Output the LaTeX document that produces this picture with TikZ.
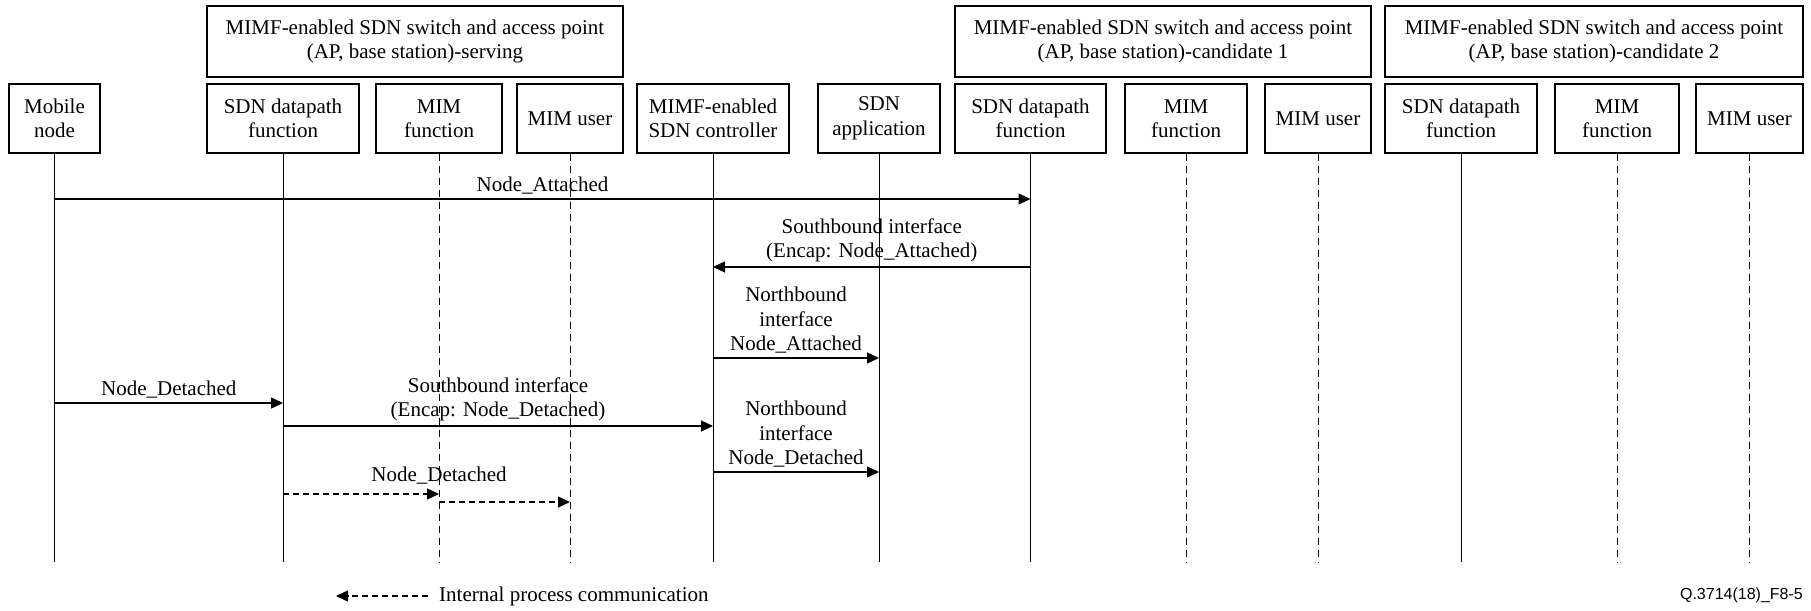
\documentclass[tikz,border=0pt]{standalone}
\usepackage{fontspec}
\setmainfont{Liberation Serif}
\newfontfamily\figfont{Liberation Sans}
\usetikzlibrary{arrows.meta, calc}

\begin{document}
\begin{tikzpicture}[x=1pt, y=-1pt, font=\fontsize{21}{24.5}\selectfont]

\tikzstyle{entity} = [rectangle, text centered, align=center, draw=black, line width=1.2pt, minimum height=69pt, inner sep=2pt]
\tikzstyle{group} = [rectangle, text centered, align=center, draw=black, line width=1.2pt, minimum height=71pt]
\tikzstyle{lifeline} = [line width=1pt]
\tikzstyle{mimline} = [line width=1pt, dash pattern=on 7pt off 5pt]
\tikzstyle{arrow} = [line width=1.4pt, -{Triangle[length=12pt,width=11pt]}]
\tikzstyle{internal} = [arrow, dash pattern=on 6pt off 4pt]
\tikzstyle{msg} = [above, inner sep=4pt, align=center]

\fill [white] (0,0) rectangle (1811,610);
\useasboundingbox (0,0) rectangle (1811,610);

% switches / access points
\node (srv) [group, minimum width=416pt] at (415,41.5) {MIMF-enabled SDN switch and access point\\(AP, base station)-serving};
\node (cd1) [group, minimum width=416pt] at (1163,41.5) {MIMF-enabled SDN switch and access point\\(AP, base station)-candidate 1};
\node (cd2) [group, minimum width=418pt] at (1594,41.5) {MIMF-enabled SDN switch and access point\\(AP, base station)-candidate 2};

% entities
\node (mn) [entity, minimum width=91pt] at (54.5,118.5) {Mobile\\node};
\node (dp0) [entity, minimum width=152pt] at (283,118.5) {SDN datapath\\function};
\node (mf0) [entity, minimum width=126pt] at (439,118.5) {MIM\\function};
\node (mu0) [entity, minimum width=106pt] at (570,118.5) {MIM user};
\node (ctl) [entity, minimum width=152pt] at (713,118.5) {MIMF-enabled\\SDN controller};
\node (app) [entity, minimum width=122pt] at (879,118.5) {SDN\\application};
\node (dp1) [entity, minimum width=151pt] at (1030.5,118.5) {SDN datapath\\function};
\node (mf1) [entity, minimum width=122pt] at (1186,118.5) {MIM\\function};
\node (mu1) [entity, minimum width=106pt] at (1318,118.5) {MIM user};
\node (dp2) [entity, minimum width=152pt] at (1461,118.5) {SDN datapath\\function};
\node (mf2) [entity, minimum width=124pt] at (1617,118.5) {MIM\\function};
\node (mu2) [entity, minimum width=107pt] at (1749.5,118.5) {MIM user};

% lifelines
\coordinate (bot) at (0,562);
\foreach \n in {mn, dp0, ctl, app, dp1, dp2}
  \draw [lifeline] (\n) -- (\n |- bot);
\foreach \n in {mf0, mu0, mf1, mu1, mf2, mu2}
  \draw [mimline] (\n) -- (\n |- bot);

% messages
\coordinate (y1) at (0,199);
\coordinate (y2) at (0,267);
\coordinate (y3) at (0,358);
\coordinate (y4) at (0,403);
\coordinate (y5) at (0,426);
\coordinate (y6) at (0,472);
\coordinate (y7) at (0,494);
\coordinate (y8) at (0,502);

\draw [arrow] (mn |- y1) -- (dp1 |- y1) node [msg, midway] {Node\_Attached};
\draw [arrow] (dp1 |- y2) -- (ctl |- y2) node [msg, midway] {Southbound interface\\(Encap: Node\_Attached)};
\draw [arrow] (ctl |- y3) -- (app |- y3) node [msg, midway] {Northbound\\interface\\Node\_Attached};
\draw [arrow] (mn |- y4) -- (dp0 |- y4) node [msg, midway] {Node\_Detached};
\draw [arrow] (dp0 |- y5) -- (ctl |- y5) node [msg, midway] {Southbound interface\\(Encap: Node\_Detached)};
\draw [arrow] (ctl |- y6) -- (app |- y6) node [msg, midway] {Northbound\\interface\\Node\_Detached};
\draw [internal] (dp0 |- y7) -- (mf0 |- y7) node [msg, at end, inner sep=9pt] {Node\_Detached};
\draw [internal] (mf0 |- y8) -- (mu0 |- y8);

% legend
\node (leg) [anchor=west, inner sep=0pt] at (439,596) {Internal process communication};
\coordinate (legtip) at (336,596);
\draw [internal] ([xshift=-11pt]leg.west) -- (legtip);

\node (fig) [anchor=east, inner sep=0pt, font=\figfont\fontsize{16}{19}\selectfont] at (1803,595) {Q.3714(18)\_F8-5};

\end{tikzpicture}
\end{document}
